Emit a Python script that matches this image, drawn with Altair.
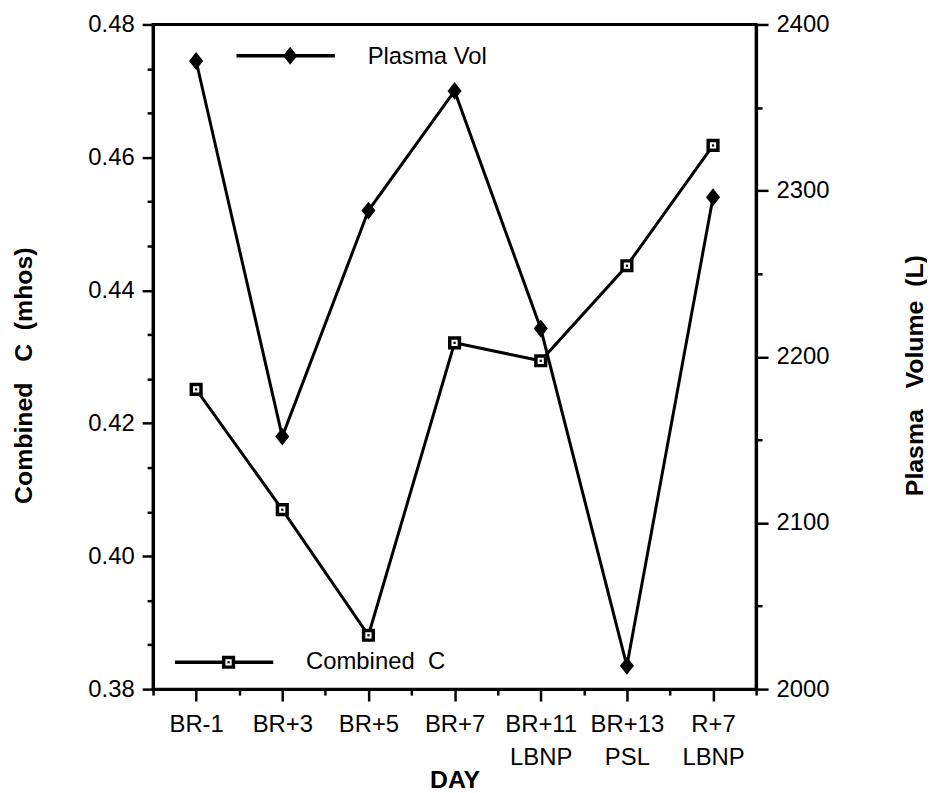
import json
import altair as alt
import pandas as pd

# ---- data ----
days = ["BR-1", "BR+3", "BR+5", "BR+7", "BR+11\nLBNP", "BR+13\nPSL", "R+7\nLBNP"]
plasma_vol = [2378, 2152, 2288, 2360, 2217, 2014, 2296]
combined_c = [0.4251, 0.4070, 0.3881, 0.4321, 0.4294, 0.4437, 0.4618]

left_major = [0.38, 0.40, 0.42, 0.44, 0.46, 0.48]
right_major = [2000, 2100, 2200, 2300, 2400]

df = pd.DataFrame({
    "idx": list(range(len(days))),
    "day": days,
    "plasma": plasma_vol,
    "comb": combined_c,
})

FONT = "Liberation Sans"
DIAMOND = "M0,-1.2L0.95,0L0,1.2L-0.95,0Z"

# x axis: major ticks on categories, minor ticks between
x_vals = [i / 2 - 0.5 for i in range(2 * len(days) + 1)]
lbl_arr = json.dumps([d.split("\n") for d in days])
x_axis = alt.Axis(
    values=x_vals,
    labelExpr=f"datum.value % 1 == 0 ? {lbl_arr}[datum.value] : ''",
    tickSize={"condition": {"test": "datum.value % 1 == 0", "value": 12}, "value": 6},
    labelPadding=12,
    labelLineHeight=33,
    labelOverlap=False,
    labelFlush=False,
    title="DAY",
    titleY=99,
    titleBaseline="alphabetic",
    orient="bottom",
)
X = alt.X("idx:Q", scale=alt.Scale(domain=[-0.5, len(days) - 0.5], nice=False, zero=False), axis=x_axis)

# left axis
l_step = (left_major[1] - left_major[0]) / 3
l_vals = [round(left_major[0] + i * l_step, 6) for i in range(3 * (len(left_major) - 1) + 1)]
l_test = "abs(datum.value*50 - round(datum.value*50)) < 0.001"
left_axis = alt.Axis(
    values=l_vals,
    labelExpr=f"{l_test} ? format(datum.value, '.2f') : ''",
    tickSize={"condition": {"test": l_test, "value": 11}, "value": 6},
    labelPadding=8,
    labelOverlap=False,
    orient="left",
    title="Combined\u00a0\u00a0\u00a0C\u00a0\u00a0(mhos)",
    titleAngle=270,
    titleX=-130,
    titleY=353,
    titleBaseline="middle",
    titleAlign="center",
)
Yc = alt.Y("comb:Q", scale=alt.Scale(domain=[left_major[0], left_major[-1]], nice=False, zero=False), axis=left_axis)

# right axis
r_vals = list(range(right_major[0], right_major[-1] + 1, 50))
r_test = "datum.value % 100 == 0"
right_axis = alt.Axis(
    values=r_vals,
    labelExpr=f"{r_test} ? format(datum.value, 'd') : ''",
    tickSize={"condition": {"test": r_test, "value": 12}, "value": 6},
    labelPadding=8,
    labelOverlap=False,
    orient="right",
    title="Plasma\u00a0\u00a0\u00a0Volume\u00a0\u00a0(L)",
    titleAngle=270,
    titleX=159,
    titleY=353,
    titleBaseline="middle",
    titleAlign="center",
)
Yp = alt.Y("plasma:Q", scale=alt.Scale(domain=[right_major[0], right_major[-1]], nice=False, zero=False), axis=right_axis)

comb_base = alt.Chart(df).encode(x=X, y=Yc)
comb_layer = alt.layer(
    comb_base.mark_line(color="black", strokeWidth=3),
    comb_base.mark_point(shape="square", filled=True, fill="white", stroke="black",
                         strokeWidth=3.5, size=95, opacity=1),
    comb_base.mark_point(shape="square", filled=True, color="black", size=5, opacity=1),
)

plasma_base = alt.Chart(df).encode(x=X, y=Yp)
plasma_layer = alt.layer(
    plasma_base.mark_line(color="black", strokeWidth=3),
    plasma_base.mark_point(shape=DIAMOND, filled=True, fill="black", stroke="black",
                           strokeWidth=2, size=150, opacity=1),
)

# ---- in-plot legends ----
one = pd.DataFrame({"k": [0]})
leg_top = alt.layer(
    alt.Chart(one).mark_rule(color="black", strokeWidth=3.5).encode(
        x=alt.value(84), x2=alt.value(183), y=alt.value(31.5)),
    alt.Chart(one).mark_point(shape=DIAMOND, filled=True, fill="black", stroke="black",
                              strokeWidth=2, size=150, opacity=1).encode(
        x=alt.value(138), y=alt.value(31.5)),
    alt.Chart(one).mark_text(font=FONT, fontSize=24, align="left", baseline="middle", color="black").encode(
        x=alt.value(216), y=alt.value(33), text=alt.value("Plasma Vol")),
)
leg_bot = alt.layer(
    alt.Chart(one).mark_rule(color="black", strokeWidth=3.5).encode(
        x=alt.value(22), x2=alt.value(121), y=alt.value(642)),
    alt.Chart(one).mark_point(shape="square", filled=True, fill="white", stroke="black",
                              strokeWidth=3.5, size=95, opacity=1).encode(
        x=alt.value(76), y=alt.value(642)),
    alt.Chart(one).mark_point(shape="square", filled=True, color="black", size=5, opacity=1).encode(
        x=alt.value(76), y=alt.value(642)),
    alt.Chart(one).mark_text(font=FONT, fontSize=24, align="left", baseline="middle", color="black").encode(
        x=alt.value(154), y=alt.value(642), text=alt.value("Combined\u00a0\u00a0C")),
)

chart = (
    alt.layer(comb_layer, plasma_layer, leg_top, leg_bot)
    .resolve_scale(y="independent")
    .properties(
        width=607,
        height=669,
        autosize="none",
        padding={"left": 146, "top": 14, "right": 172, "bottom": 102},
        background="white",
    )
    .configure_view(stroke="black", strokeWidth=3)
    .configure_axis(
        grid=False,
        domainColor="black",
        domainWidth=3,
        tickColor="black",
        tickWidth=2.5,
        labelFont=FONT,
        labelFontSize=24,
        labelColor="black",
        titleFont=FONT,
        titleFontSize=25,
        titleFontWeight="bold",
        titleColor="black",
    )
)

chart.save("out.html", embed_options={"renderer": "svg", "actions": False})
